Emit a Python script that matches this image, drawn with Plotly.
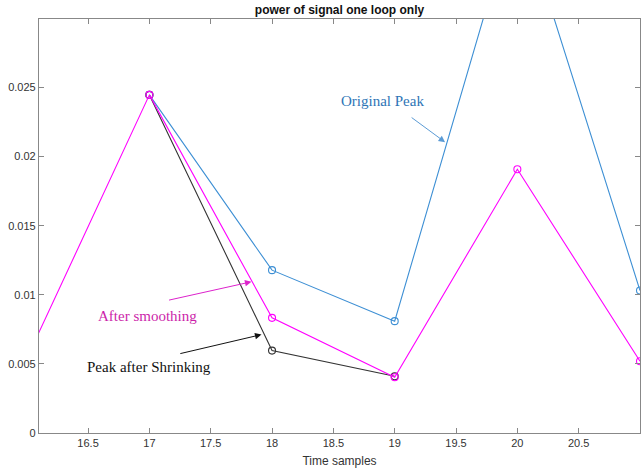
import plotly.graph_objects as go

# ---- data ----
x_orig = [17, 18, 19, 20, 21]
y_orig = [0.02446, 0.01178, 0.00809, 0.0384, 0.01031]

x_shrink = [17, 18, 19]
y_shrink = [0.02446, 0.00596, 0.00410]

x_smooth = [16, 17, 18, 19, 20, 21]
y_smooth = [0.00538, 0.02446, 0.00833, 0.00403, 0.01908, 0.00519]

x_tickvals = [16.5, 17, 17.5, 18, 18.5, 19, 19.5, 20, 20.5, 21]
x_ticktext = ["16.5", "17", "17.5", "18", "18.5", "19", "19.5", "20", "20.5", "21"]
y_tickvals = [0, 0.005, 0.01, 0.015, 0.02, 0.025]
y_ticktext = ["0", "0.005", "0.01", "0.015", "0.02", "0.025"]

title_text = "power of signal one loop only"
xlabel = "Time samples"

BLUE = "#3D8FD4"
MAG = "#FF00FF"
BLK = "#333333"

fig = go.Figure()
fig.add_trace(go.Scatter(x=x_orig, y=y_orig, mode="lines+markers",
                         line=dict(color=BLUE, width=1.1),
                         marker=dict(symbol="circle-open", size=7, color=BLUE, line=dict(width=1.1)),
                         showlegend=False, cliponaxis=True))
fig.add_trace(go.Scatter(x=x_shrink, y=y_shrink, mode="lines+markers",
                         line=dict(color=BLK, width=1.1),
                         marker=dict(symbol="circle-open", size=7, color=BLK, line=dict(width=1.1)),
                         showlegend=False, cliponaxis=True))
fig.add_trace(go.Scatter(x=x_smooth, y=y_smooth, mode="lines+markers",
                         line=dict(color=MAG, width=1.1),
                         marker=dict(symbol="circle-open", size=7, color=MAG, line=dict(width=1.1)),
                         showlegend=False, cliponaxis=True))

serif = "Liberation Serif, Times New Roman, serif"
ann = []
# texts
ann.append(dict(x=18.90, y=0.02403, xref="x", yref="y", text="Original Peak", showarrow=False,
                font=dict(family=serif, size=15, color="#2E75B6")))
ann.append(dict(x=16.987, y=0.00850, xref="x", yref="y", text="After smoothing", showarrow=False,
                font=dict(family=serif, size=15, color="#CC1FAA")))
ann.append(dict(x=16.993, y=0.00478, xref="x", yref="y", text="Peak after Shrinking", showarrow=False,
                font=dict(family=serif, size=15, color="#111111")))
# arrows
def arrow(x0, y0, x1, y1, color):
    return dict(x=x1, y=y1, ax=x0, ay=y0, xref="x", yref="y", axref="x", ayref="y",
                text="", showarrow=True, arrowhead=2, arrowsize=1.3, arrowwidth=1,
                arrowcolor=color)
ann.append(arrow(19.126, 0.0229, 19.411, 0.02104, "#5B9BD5"))
ann.append(arrow(17.148, 0.00959, 17.832, 0.01094, "#DD22CC"))
ann.append(arrow(17.24, 0.00572, 17.914, 0.00712, "#111111"))

axis_common = dict(showline=True, linecolor="#888888", linewidth=1.2, mirror="ticks",
                   ticks="inside", ticklen=5, tickcolor="#888888", tickwidth=1,
                   showgrid=False, zeroline=False, automargin=False,
                   tickfont=dict(family="Liberation Sans, Arial, sans-serif", size=11, color="#333333"))

fig.update_layout(
    width=642, height=473,
    margin=dict(l=39, r=2, t=19, b=40, autoexpand=False),
    plot_bgcolor="white", paper_bgcolor="white",
    title=dict(text="<b>" + title_text + "</b>", x=0.5 + (39 - 2) / 2 / 642, xanchor="center",
               y=1 - 10 / 473, yanchor="middle", yref="container",
               font=dict(family="Liberation Sans, Arial, sans-serif", size=12, color="#111111")),
    xaxis=dict(range=[16.1, 21.0], tickvals=x_tickvals, ticktext=x_ticktext,
               title=dict(text=xlabel, standoff=8,
                          font=dict(family="Liberation Sans, Arial, sans-serif", size=12, color="#333333")),
               **axis_common),
    yaxis=dict(range=[0, 0.02995], tickvals=y_tickvals, ticktext=y_ticktext, **axis_common),
    annotations=ann,
    font=dict(family="Liberation Sans, Arial, sans-serif"),
)

fig.write_html("out.html", config={"displayModeBar": False},
               post_script="document.body.style.margin='0px';document.body.style.overflow='hidden';")
